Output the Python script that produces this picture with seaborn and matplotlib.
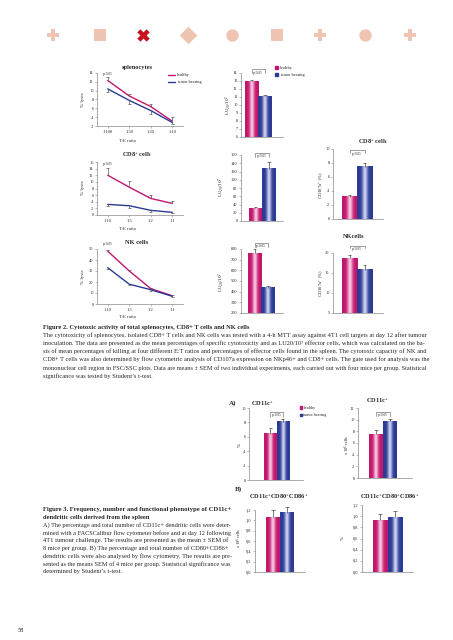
import matplotlib
matplotlib.use("Agg")
import matplotlib.pyplot as plt
from matplotlib.colors import to_rgb
from matplotlib.patches import Patch
from matplotlib.lines import Line2D
import numpy as np
import pandas as pd
import seaborn as sns

sns.set_style("white")
plt.rcParams["font.family"] = ["Liberation Serif", "DejaVu Serif"]
plt.rcParams["mathtext.default"] = "regular"

# values
groups = ["healthy", "tumor bearing"]

spl_ratios = ["1:100", "1:50", "1:20", "1:10"]
spl_healthy = [12.3, 8.8, 6.4, 3.1]
spl_healthy_err = [0.8, 0.5, 0.5, 1.0]
spl_tumor = [10.4, 7.8, 5.5, 2.8]
spl_tumor_err = [0.6, 0.9, 0.7, 0.4]

cd8_ratios = ["1:10", "1:5", "1:2", "1:1"]
cd8_healthy = [12.0, 8.4, 5.0, 3.5]
cd8_healthy_err = [2.3, 1.8, 1.0, 0.7]
cd8_tumor = [3.2, 2.8, 1.4, 0.8]
cd8_tumor_err = [0.6, 0.7, 0.5, 0.3]

nk_ratios = ["1:10", "1:5", "1:2", "1:1"]
nk_healthy = [48.0, 30.0, 14.0, 7.5]
nk_healthy_err = [1.5, 1.0, 1.0, 1.0]
nk_tumor = [33.0, 18.0, 13.0, 7.0]
nk_tumor_err = [1.0, 1.0, 1.0, 1.0]

lu_spl = [13.0, 11.1]
lu_spl_err = [0.15, 0.15]
lu_cd8 = [31, 127]
lu_cd8_err = [4, 15]
lu_nk = [762, 435]
lu_nk_err = [35, 20]

cd107_cd8 = [3.2, 7.5]
cd107_cd8_err = [0.3, 0.5]
cd107_nk = [18.7, 15.8]
cd107_nk_err = [0.8, 1.2]

cd11c_pct = [6.4, 8.1]
cd11c_pct_err = [0.8, 0.4]
cd11c_num = [7.5, 9.7]
cd11c_num_err = [0.7, 0.4]
cd80_num = [1.06, 1.15]
cd80_num_err = [0.14, 0.11]
cd80_pct = [0.93, 0.98]
cd80_pct_err = [0.10, 0.11]

fig2_title = "Figure 2. Cytotoxic activity of total splenocytes, CD8+ T cells and NK cells"
fig2_lines = [
    "The cytotoxicity of splenocytes, isolated CD8+ T cells and NK cells was tested with a 4-h MTT assay against 4T1 cell targets at day 12 after tumour",
    "inoculation. The data are presented as the mean percentages of specific cytotoxicity and as LU20/10\u2077 effector cells, which was calculated on the ba-",
    "sis of mean percentages of killing at four different E:T ratios and percentages of effector cells found in the spleen. The cytotoxic capacity of NK and",
    "CD8+ T cells was also determined by flow cytometric analysis of CD107a expression on NKp46+ and CD8+ cells. The gate used for analysis was the",
    "mononuclear cell region in FSC/SSC plots. Data are means \u00b1 SEM of two individual experiments, each carried out with four mice per group. Statistical",
    "significance was tested by Student\u2019s t-test.",
]
fig3_title = ["Figure 3. Frequency, number and functional phenotype of CD11c+",
              "dendritic cells derived from the spleen"]
fig3_lines = [
    "A) The percentage and total number of CD11c+ dendritic cells were deter-",
    "mined with a FACSCalibur flow cytometer before and at day 12 following",
    "4T1 tumour challenge. The results are presented as the mean \u00b1 SEM of",
    "8 mice per group. B) The percentage and total number of CD80+CD86+",
    "dendritic cells were also analysed by flow cytometry. The results are pre-",
    "sented as the means SEM of 4 mice per group. Statistical significance was",
    "determined by Student\u2019s t-test.",
]

pink, pink_l = "#C2166C", "#F8C9E2"
blue, blue_l = "#2B3A92", "#CDD2F4"
axis_c = "#8a8a8a"

W, H = 453, 640
fig = plt.figure(figsize=(W / 100, H / 100), dpi=100)
fig.patch.set_facecolor("white")


def box(l, t, r, b):
    return fig.add_axes([l / W, 1 - b / H, (r - l) / W, (b - t) / H])


def ftext(x, y, s, **kw):
    kw.setdefault("ha", "center")
    kw.setdefault("va", "center")
    return fig.text(x / W, 1 - y / H, s, **kw)


def style_axes(ax, ylim, yticks, fmt=lambda v: f"{v:g}"):
    ax.set_ylim(*ylim)
    ax.set_yticks(yticks)
    ax.set_yticklabels([fmt(v) for v in yticks])
    sns.despine(ax=ax)
    for s in ["left", "bottom"]:
        ax.spines[s].set_linewidth(0.5)
        ax.spines[s].set_color(axis_c)
    ax.tick_params(axis="y", left=True, length=1.5, width=0.4, pad=1,
                   labelsize=3.2, color=axis_c)
    ax.set_xlabel("")
    ax.set_ylabel("")
    ax.patch.set_alpha(0)


def one_sided(ax, x, v, e, up, color, cw=0.06):
    x = np.asarray(x, float)
    v = np.asarray(v, float)
    e = np.asarray(e, float)
    end = v + e if up else v - e
    ax.vlines(x, v, end, color=color, lw=0.5, clip_on=False, zorder=5)
    ax.hlines(end, x - cw, x + cw, color=color, lw=0.5, clip_on=False, zorder=5)


def line_panel(rect, ratios, h, he, t, te, ylim, yticks):
    ax = box(*rect)
    n = len(ratios)
    df = pd.DataFrame({"pos": list(range(n)) * 2, "lysis": h + t,
                       "group": [groups[0]] * n + [groups[1]] * n})
    sns.lineplot(data=df, x="pos", y="lysis", hue="group", palette=[pink, blue],
                 linewidth=1.0, legend=False, ax=ax)
    one_sided(ax, range(n), h, he, True, "#555555")
    one_sided(ax, range(n), t, te, False, "#555555")
    ax.set_xlim(-0.5, n - 0.5)
    style_axes(ax, ylim, yticks)
    ax.set_xticks(range(n))
    ax.set_xticklabels(ratios)
    ax.tick_params(axis="x", bottom=True, length=1.5, width=0.4, pad=1.5,
                   labelsize=3.2, color=axis_c)
    return ax


def shade(ax, patch, dark, light):
    # light stripe down the middle of each bar, cut to the visible y range
    lo, hi = ax.get_ylim()
    x0, w = patch.get_x(), patch.get_width()
    y0 = max(patch.get_y(), lo)
    y1 = min(patch.get_y() + patch.get_height(), hi)
    u = np.linspace(0, 1, 64)
    k = np.exp(-((u - 0.5) / 0.17) ** 2)[None, :, None]
    img = np.array(to_rgb(dark)) * (1 - k) + np.array(to_rgb(light)) * k
    ax.imshow(img, extent=[x0, x0 + w, y0, y1], aspect="auto",
              zorder=patch.get_zorder() + 0.1, interpolation="bilinear")


def bar_panel(rect, vals, errs, ylim, yticks, xlim, fmt=lambda v: f"{v:g}"):
    ax = box(*rect)
    df = pd.DataFrame({"group": groups, "value": vals})
    sns.barplot(data=df, x="group", y="value", hue="group", palette=[pink, blue],
                width=1.0, saturation=1, legend=False, errorbar=None, ax=ax)
    ax.set_xlim(*xlim)
    style_axes(ax, ylim, yticks, fmt)
    for p, c, lc in zip(ax.patches, [pink, blue], [pink_l, blue_l]):
        shade(ax, p, c, lc)
    ax.set_xlim(*xlim)
    ax.set_ylim(*ylim)
    one_sided(ax, [0, 1], vals, errs, True, "#444444", cw=0.12)
    ax.set_xticks([])
    return ax


def bracket(ax, y_line, y_text, x0=0.0, x1=1.0, drop=None):
    ax.plot([x0, x0, x1, x1], [y_line - drop, y_line, y_line, y_line - drop],
            color="#555555", lw=0.4, clip_on=False)
    ax.text((x0 + x1) / 2, y_text, "p<0.05", fontsize=2.6, ha="center",
            va="center", clip_on=False)


# page header ornaments
deco = fig.add_axes([0, 0, 1, 1])
deco.set_xlim(0, W)
deco.set_ylim(H, 0)
deco.axis("off")
icon_x = [53, 100, 143, 188, 232, 277, 320, 365, 410]
icon_m = ["P", "s", "X", "D", "o", "s", "P", "o", "P"]
for i, (xx, mk) in enumerate(zip(icon_x, icon_m)):
    col = "#C8101E" if i == 2 else "#EFC4B2"
    deco.scatter([xx], [35], marker=mk, s=80, color=col, linewidths=0)

# Figure 2, left column: % lysis vs T:E ratio
ax1 = line_panel((97, 73, 183, 126), spl_ratios, spl_healthy, spl_healthy_err,
                 spl_tumor, spl_tumor_err, (2, 14), range(2, 15, 2))
ax2 = line_panel((97, 162, 183, 215), cd8_ratios, cd8_healthy, cd8_healthy_err,
                 cd8_tumor, cd8_tumor_err, (0, 16), range(0, 17, 2))
ax3 = line_panel((97, 249, 183, 304), nk_ratios, nk_healthy, nk_healthy_err,
                 nk_tumor, nk_tumor_err, (0, 50), range(0, 51, 10))

ax1.legend(handles=[Line2D([], [], color=pink, lw=1.0), Line2D([], [], color=blue, lw=1.0)],
           labels=groups, loc="upper left", bbox_to_anchor=(166 / W, 1 - 71 / H),
           bbox_transform=fig.transFigure, frameon=False, fontsize=3.2,
           handlelength=1.6, handletextpad=0.3, labelspacing=0.6, borderpad=0)

for ytit, name, yax, ylab, yx in [(68, "splenocytes", 100, 141, 74),
                                   (155, "CD8$^{+}$ cells", 188, 229, 164),
                                   (243, "NK cells", 277, 317, 244)]:
    ftext(137, ytit, name, fontsize=4.6, fontweight="bold")
    ftext(83, yax, "% lysis", fontsize=3.6, rotation=90)
    ftext(127, ylab, "T:E ratio", fontsize=3.4)
    ftext(108, yx, "p<0.05", fontsize=2.6)

# Figure 2, middle column: LU20/10^7
lu_lab = "LU$_{20}$/10$^{7}$"
b1 = bar_panel((241, 73, 283, 137), lu_spl, lu_spl_err, (6, 14), range(6, 15),
               (-0.78, 2.33))
bracket(b1, 14.5, 13.95, drop=0.5)
b1.legend(handles=[Patch(color=pink), Patch(color=blue)], labels=groups,
          loc="upper left", bbox_to_anchor=(273 / W, 1 - 64 / H),
          bbox_transform=fig.transFigure, frameon=False, fontsize=3.2,
          handlelength=0.6, handleheight=0.6, handletextpad=0.4,
          labelspacing=0.7, borderpad=0)
ftext(228, 105, lu_lab, fontsize=3.6, rotation=90)

b2 = bar_panel((241, 155, 283, 221), lu_cd8, lu_cd8_err, (0, 160), range(0, 161, 20),
               (-1.07, 2.04))
bracket(b2, 164, 158, drop=8)
ftext(221, 187, lu_lab, fontsize=3.6, rotation=90)

b3 = bar_panel((241, 249, 283, 313), lu_nk, lu_nk_err, (200, 800), range(200, 801, 100),
               (-1.0, 2.1))
bracket(b3, 856, 825, drop=40)
ftext(221, 282, lu_lab, fontsize=3.6, rotation=90)

# Figure 2, right column: CD107a+
c1 = bar_panel((333, 149, 383, 219), cd107_cd8, cd107_cd8_err, (0, 10), range(0, 11, 2),
               (-1.1, 2.23))
bracket(c1, 9.9, 9.35, drop=0.4)
ftext(373, 142, "CD8$^{+}$ cells", fontsize=4.6, fontweight="bold")
ftext(322, 185, "CD107a$^{+}$ (%)", fontsize=3.4, rotation=90)

c2 = bar_panel((333, 253, 383, 313), cd107_nk, cd107_nk_err, (5, 20), range(5, 21, 5),
               (-1.1, 2.23))
bracket(c2, 21.8, 21.0, drop=0.6)
ftext(354, 236, "NKcells", fontsize=4.6, fontweight="bold")
ftext(322, 283, "CD107a$^{+}$ (%)", fontsize=3.4, rotation=90)

# Figure 3 panels
d1 = bar_panel((249, 408, 303, 480), cd11c_pct, cd11c_pct_err, (0, 10), range(0, 11, 2),
               (-1.7, 2.6))
bracket(d1, 9.4, 9.0, drop=0.6)
d1.legend(handles=[Patch(color=pink), Patch(color=blue)], labels=groups,
          loc="upper left", bbox_to_anchor=(298 / W, 1 - 404 / H),
          bbox_transform=fig.transFigure, frameon=False, fontsize=3.0,
          handlelength=0.5, handleheight=0.5, handletextpad=0.3,
          labelspacing=0.8, borderpad=0)
ftext(240, 445, "%", fontsize=3.6, rotation=90)
ftext(262, 404, "CD11c$^{+}$", fontsize=4.6, fontweight="bold")
ftext(233, 403, "A)", fontsize=5, fontweight="bold")

d2 = bar_panel((358, 408, 412, 478), cd11c_num, cd11c_num_err, (0, 12), range(0, 13, 2),
               (-1.29, 2.57))
bracket(d2, 11.3, 10.8, drop=0.6)
ftext(347, 445, "x 10$^{6}$ cells", fontsize=3.2, rotation=90)
ftext(377, 401, "CD11c$^{+}$", fontsize=4.6, fontweight="bold")

comma = lambda v: f"{v:.1f}".replace(".", ",")
ticks12 = [0.0, 0.2, 0.4, 0.6, 0.8, 1.0, 1.2]
e1 = bar_panel((255, 510, 305, 572), cd80_num, cd80_num_err, (0, 1.2), ticks12,
               (-1.29, 2.29), fmt=comma)
ftext(239, 538, "x 10$^{6}$ cells", fontsize=3.2, rotation=90)
ftext(279, 497, "CD11c$^{+}$CD80$^{+}$CD86$^{+}$", fontsize=4.6, fontweight="bold")
ftext(238, 489, "B)", fontsize=5, fontweight="bold")

e2 = bar_panel((362, 505, 413, 572), cd80_pct, cd80_pct_err, (0, 1.2), ticks12,
               (-1.2, 2.2), fmt=comma)
ftext(343, 538, "%", fontsize=3.6, rotation=90)
ftext(390, 497, "CD11c$^{+}$CD80$^{+}$CD86$^{+}$", fontsize=4.6, fontweight="bold")

# captions, justified lines are scaled to fill the column
renderer = fig.canvas.get_renderer()


def caption(x, ys, lines, width, base, justify, weight="normal"):
    sizes = []
    items = []
    for y, s, j in zip(ys, lines, justify):
        t = ftext(x, y, s, ha="left", fontsize=base, fontweight=weight)
        items.append((t, j))
        if j:
            wpx = t.get_window_extent(renderer).width
            sizes.append(base * width / wpx)
    avg = np.mean(sizes) if sizes else base
    for t, j in items:
        if j:
            wpx = t.get_window_extent(renderer).width
            t.set_fontsize(base * width / wpx)
        else:
            t.set_fontsize(avg)
    return avg


body2 = caption(43, [335 + 8.2 * i for i in range(6)], fig2_lines, 379, 4.0,
                [True] * 5 + [False])
ftext(43, 327, fig2_title, ha="left", fontsize=body2 * 1.02, fontweight="bold")

caption(43, [509.5], fig3_title[:1], 185, 4.0, [True], weight="bold")
body3 = caption(43, [525 + 7.75 * i for i in range(7)], fig3_lines, 185, 4.0,
                [True] * 6 + [False])
ftext(43, 517.3, fig3_title[1], ha="left", fontsize=body3 * 1.02, fontweight="bold")

ftext(21, 631, "58", fontsize=4.6)

fig.savefig("out.png", dpi=100)
